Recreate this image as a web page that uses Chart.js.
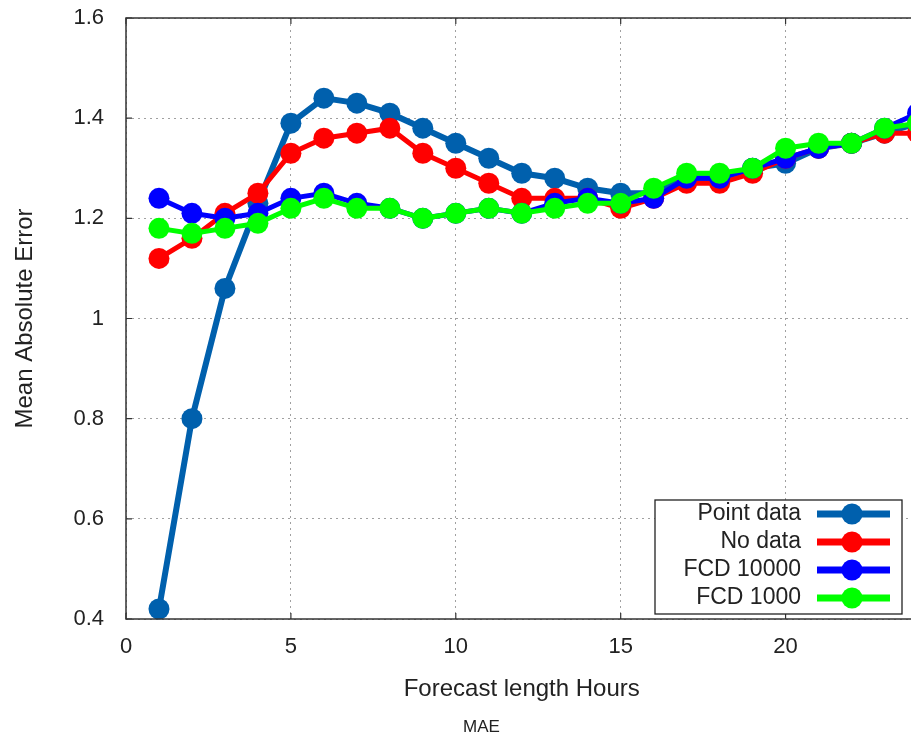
<!DOCTYPE html>
<html>
<head>
<meta charset="utf-8">
<script src="https://cdn.jsdelivr.net/npm/chart.js@4/dist/chart.umd.min.js"></script>
<style>
html, body { margin:0; padding:0; overflow:hidden; background:#fff; }
#wrap { position:relative; width:928px; height:734px; }
</style>
</head>
<body>
<div id="wrap"><canvas id="c"></canvas></div>
<script>
const hours = [1,2,3,4,5,6,7,8,9,10,11,12,13,14,15,16,17,18,19,20,21,22,23,24];
const pointData = [0.42,0.80,1.06,1.23,1.39,1.44,1.43,1.41,1.38,1.35,1.32,1.29,1.28,1.26,1.25,1.25,1.28,1.28,1.30,1.31,1.34,1.35,1.37,1.39];
const noData    = [1.12,1.16,1.21,1.25,1.33,1.36,1.37,1.38,1.33,1.30,1.27,1.24,1.24,1.24,1.22,1.24,1.27,1.27,1.29,1.32,1.34,1.35,1.37,1.37];
const fcd10000  = [1.24,1.21,1.20,1.21,1.24,1.25,1.23,1.22,1.20,1.21,1.22,1.21,1.23,1.24,1.23,1.24,1.28,1.28,1.30,1.32,1.34,1.35,1.38,1.41];
const fcd1000   = [1.18,1.17,1.18,1.19,1.22,1.24,1.22,1.22,1.20,1.21,1.22,1.21,1.22,1.23,1.23,1.26,1.29,1.29,1.30,1.34,1.35,1.35,1.38,1.39];
const seriesNames = ['Point data','No data','FCD 10000','FCD 1000'];
const seriesColors = ['#0060ad','#ff0000','#0000ff','#00ff00'];
const seriesValues = [pointData, noData, fcd10000, fcd1000];
const xTicks = [0,5,10,15,20];
const yTicks = [0.4,0.6,0.8,1.0,1.2,1.4,1.6];
const yMin = 0.4, yMax = 1.6, xMin = 0, xMax = 24;

const FONT = "'Liberation Sans', Arial, sans-serif";
const TEXT = '#222';

const datasets = seriesValues.map((vals, i) => ({
  label: seriesNames[i],
  data: hours.map((h, j) => ({x: h, y: vals[j]})),
  borderColor: seriesColors[i],
  backgroundColor: seriesColors[i],
  pointBackgroundColor: seriesColors[i],
  pointBorderWidth: 0,
  pointRadius: 10.5,
  pointHoverRadius: 10.5,
  borderWidth: i === 0 ? 6 : 5,
  order: 4 - i,
  clip: false
}));

const frame = {
  id: 'frame',
  afterDatasetsDraw(chart) {
    const {ctx, chartArea: a, scales} = chart;
    ctx.save();
    ctx.strokeStyle = '#333';
    ctx.lineWidth = 1.5;
    ctx.strokeRect(a.left, a.top, a.right - a.left, a.bottom - a.top);
    ctx.lineWidth = 1.2;
    ctx.beginPath();
    xTicks.forEach(v => {
      const px = scales.x.getPixelForValue(v);
      ctx.moveTo(px, a.bottom); ctx.lineTo(px, a.bottom - 6);
      ctx.moveTo(px, a.top); ctx.lineTo(px, a.top + 6);
    });
    yTicks.forEach(v => {
      const py = scales.y.getPixelForValue(v);
      ctx.moveTo(a.left, py); ctx.lineTo(a.left + 6, py);
    });
    ctx.stroke();

    // legend
    const bx = 655, by = 500, bw = 247, bh = 114;
    ctx.fillStyle = '#fff';
    ctx.fillRect(bx, by, bw, bh);
    ctx.strokeStyle = '#222';
    ctx.lineWidth = 1.3;
    ctx.strokeRect(bx, by, bw, bh);
    ctx.font = '23px ' + FONT;
    ctx.textAlign = 'right';
    ctx.textBaseline = 'middle';
    seriesNames.forEach((n, i) => {
      const y = 514 + i * 28;
      ctx.fillStyle = TEXT;
      ctx.fillText(n, 801, y);
      ctx.strokeStyle = seriesColors[i];
      ctx.lineWidth = 7;
      ctx.beginPath(); ctx.moveTo(817, y); ctx.lineTo(890, y); ctx.stroke();
      ctx.fillStyle = seriesColors[i];
      ctx.beginPath(); ctx.arc(852, y, 10.5, 0, Math.PI * 2); ctx.fill();
    });

    ctx.fillStyle = TEXT;
    ctx.textAlign = 'center';
    ctx.textBaseline = 'alphabetic';
    ctx.font = '17px ' + FONT;
    ctx.fillText('MAE', 481.5, 732);
    ctx.restore();
  }
};

new Chart(document.getElementById('c'), {
  type: 'line',
  data: { datasets },
  plugins: [frame],
  options: {
    responsive: true,
    maintainAspectRatio: false,
    animation: false,
    events: [],
    layout: { padding: { left: 0, right: 2, top: 18, bottom: 0 } },
    plugins: { legend: { display: false }, tooltip: { enabled: false } },
    scales: {
      x: {
        type: 'linear', min: xMin, max: xMax,
        afterBuildTicks: s => { s.ticks = xTicks.map(v => ({value: v})); },
        afterFit: s => { s.height = 115; s.paddingLeft = 0; s.paddingRight = 0; },
        grid: { color: '#a0a0a0', drawTicks: false, lineWidth: 1 },
        border: { display: false, dash: [2, 4] },
        ticks: { color: TEXT, font: { family: FONT, size: 22 }, padding: 15, maxRotation: 0 },
        title: { display: true, text: 'Forecast length Hours', color: TEXT, font: { family: FONT, size: 24 }, padding: { top: 0, bottom: 30 } }
      },
      y: {
        type: 'linear', min: yMin, max: yMax,
        afterBuildTicks: s => { s.ticks = yTicks.map(v => ({value: v})); },
        afterFit: s => { s.width = 126; s.paddingTop = 0; s.paddingBottom = 0; },
        grid: { color: '#a0a0a0', drawTicks: false, lineWidth: 1 },
        border: { display: false, dash: [2, 4] },
        ticks: { color: TEXT, font: { family: FONT, size: 22 }, padding: 22, callback: v => String(Math.round(v*10)/10) },
        title: { display: true, text: 'Mean Absolute Error', color: TEXT, font: { family: FONT, size: 24 }, padding: { top: 11, bottom: 0 } }
      }
    }
  }
});
</script>
</body>
</html>
